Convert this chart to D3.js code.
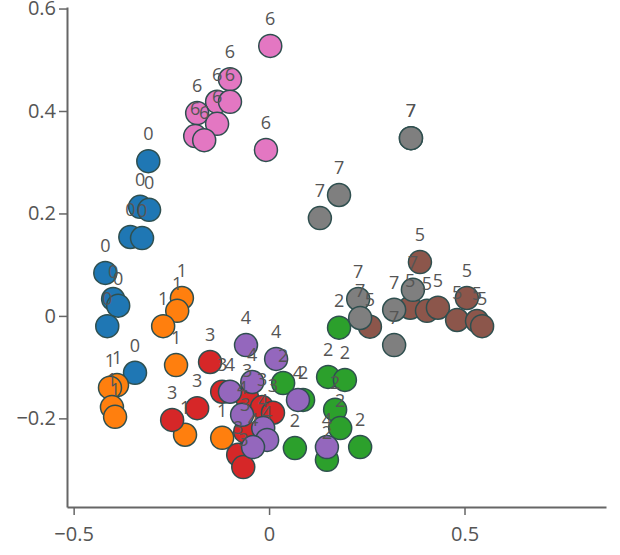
<!DOCTYPE html>
<html>
<head>
<meta charset="utf-8">
<script src="https://cdn.jsdelivr.net/npm/d3@7"></script>
<style>
  body { margin: 0; background: #fff; }
  svg text { font-family: "Open Sans", sans-serif; }
</style>
</head>
<body>
<svg id="chart" width="620" height="555"></svg>
<script>
// cluster points: [x, y]
var cluster0 = [[-0.309, 0.302], [-0.330, 0.213], [-0.307, 0.207], [-0.355, 0.154], [-0.325, 0.152],
                [-0.419, 0.084], [-0.399, 0.033], [-0.386, 0.020], [-0.414, -0.020], [-0.343, -0.111]];
var cluster1 = [[-0.223, 0.035], [-0.235, 0.010], [-0.271, -0.020], [-0.238, -0.096], [-0.389, -0.135],
                [-0.407, -0.140], [-0.402, -0.178], [-0.394, -0.197], [-0.215, -0.232], [-0.120, -0.238]];
var cluster2 = [[0.036, -0.131], [0.087, -0.164], [0.066, -0.258], [0.151, -0.119], [0.194, -0.125],
                [0.169, -0.183], [0.182, -0.219], [0.233, -0.256], [0.148, -0.281], [0.179, -0.023]];
var cluster3 = [[-0.151, -0.090], [-0.120, -0.148], [-0.184, -0.180], [-0.248, -0.203], [-0.056, -0.160],
                [-0.018, -0.178], [0.010, -0.189], [-0.061, -0.226], [-0.079, -0.271], [-0.066, -0.295]];
var cluster4 = [[-0.059, -0.057], [0.018, -0.084], [-0.043, -0.129], [-0.100, -0.148], [-0.069, -0.193],
                [-0.015, -0.219], [-0.005, -0.242], [-0.041, -0.256], [0.074, -0.164], [0.148, -0.256]];
var cluster5 = [[0.386, 0.105], [0.258, -0.021], [0.361, 0.016], [0.404, 0.010], [0.432, 0.016],
                [0.506, 0.035], [0.481, -0.008], [0.532, -0.010], [0.545, -0.020]];
var cluster6 = [[0.003, 0.527], [-0.100, 0.462], [-0.133, 0.418], [-0.100, 0.418], [-0.184, 0.396],
                [-0.133, 0.375], [-0.189, 0.351], [-0.166, 0.343], [-0.008, 0.324]];
var cluster7 = [[0.363, 0.347], [0.363, 0.347], [0.179, 0.236], [0.130, 0.191], [0.228, 0.033],
                [0.233, -0.004], [0.320, 0.012], [0.368, 0.051], [0.320, -0.057]];

var clusterNames = ["0", "1", "2", "3", "4", "5", "6", "7"];
var clusters = [cluster0, cluster1, cluster2, cluster3, cluster4, cluster5, cluster6, cluster7];

var xTicks = [-0.5, 0, 0.5];
var yTicks = [-0.2, 0, 0.2, 0.4, 0.6];

// flatten into one list of points
var points = [];
clusters.forEach(function (c, i) {
    c.forEach(function (p) {
        points.push({ x: p[0], y: p[1], label: clusterNames[i] });
    });
});

var svg = d3.select("#chart");

var x = d3.scaleLinear().domain([-0.517, 0.862]).range([67, 606]);
var y = d3.scaleLinear().domain([-0.373, 0.603]).range([507, 7]);
var color = d3.scaleOrdinal().domain(clusterNames).range(d3.schemeCategory10);

//AXES
var xAxis = svg.append("g")
    .attr("transform", "translate(0," + y.range()[0] + ")")
    .call(d3.axisBottom(x).tickValues(xTicks).tickFormat(d3.format("")).tickSize(8).tickSizeOuter(0).tickPadding(12));
var yAxis = svg.append("g")
    .attr("transform", "translate(" + x.range()[0] + ",0)")
    .call(d3.axisLeft(y).tickValues(yTicks).tickFormat(d3.format("")).tickSize(8).tickSizeOuter(0).tickPadding(3));

[xAxis, yAxis].forEach(function (a) {
    a.select(".domain").attr("stroke", "#666").attr("stroke-width", 2);
    a.selectAll(".tick line").attr("stroke", "#666").attr("stroke-width", 1.5);
    a.selectAll(".tick text").attr("fill", "#555").style("font-size", "20px");
});

//POINTS
svg.append("g").selectAll("circle")
    .data(points)
    .join("circle")
    .attr("cx", function (d) { return x(d.x); })
    .attr("cy", function (d) { return y(d.y); })
    .attr("r", 11.5)
    .attr("fill", function (d) { return color(d.label); })
    .attr("stroke", "#2f4f4f")
    .attr("stroke-width", 1.5);

//LABELS
svg.append("g").selectAll("text")
    .data(points)
    .join("text")
    .attr("x", function (d) { return x(d.x); })
    .attr("y", function (d) { return y(d.y) - 21; })
    .attr("text-anchor", "middle")
    .attr("fill", "#555")
    .style("font-size", "18px")
    .text(function (d) { return d.label; });
</script>
</body>
</html>
